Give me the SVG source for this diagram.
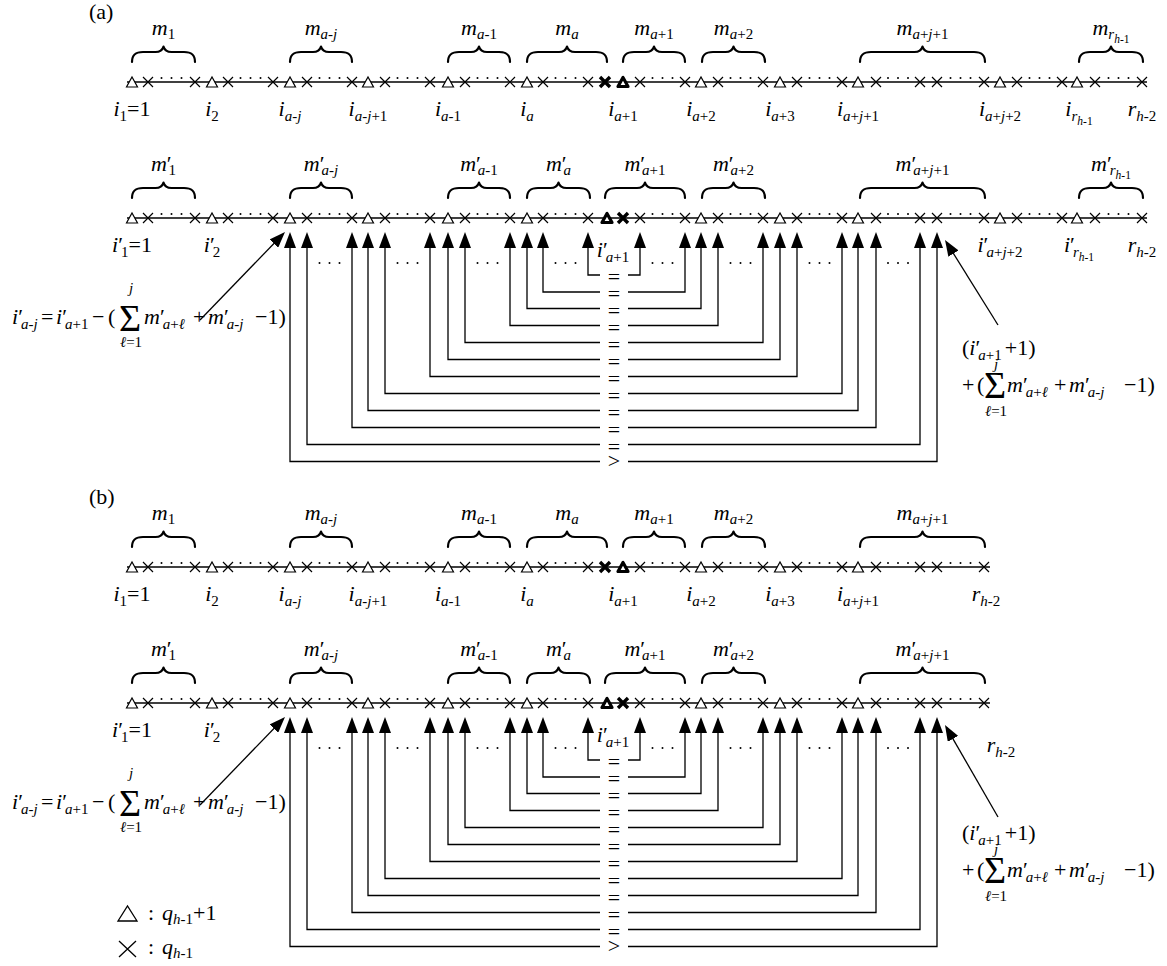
<svg xmlns="http://www.w3.org/2000/svg" width="1167" height="966" viewBox="0 0 1167 966">
<style>
.t{font-family:"Liberation Serif","Times New Roman",serif;font-size:22px;fill:#000}
.i{font-style:italic}
.s{font-size:15px}
.ss{font-size:11.5px}
.sig{font-size:38px}
.c{text-anchor:middle}
.ln{stroke:#000;stroke-width:1.3;fill:none}
.br{stroke:#000;stroke-width:2.2;fill:none;stroke-linecap:round;stroke-linejoin:round}
.cn{stroke:#000;stroke-width:1.3;fill:none;marker-end:url(#ah)}
</style>
<defs>
<marker id="ah" viewBox="0 0 16 12" refX="13" refY="6" markerWidth="16" markerHeight="12" markerUnits="userSpaceOnUse" orient="auto"><path d="M0,0 L16,6 L0,12 Z" fill="#000"/></marker>
<path id="tr" d="M-5.5,5 L5.5,5 L0,-5 Z" fill="#fff" stroke="#000" stroke-width="1.2"/>
<path id="cr" d="M-5,-5 L5,5 M5,-5 L-5,5" fill="none" stroke="#000" stroke-width="1.2"/>
<path id="btr" d="M-5,4.5 L5,4.5 L0,-4.5 Z" fill="#fff" stroke="#000" stroke-width="3.2" stroke-linejoin="round"/>
<path id="bcr" d="M-5,-5 L5,5 M5,-5 L-5,5" fill="none" stroke="#000" stroke-width="3.4"/>
<g id="dd"><circle cx="-10" cy="-4" r="1"/><circle cx="0" cy="-4" r="1"/><circle cx="10" cy="-4" r="1"/></g>
</defs>
<rect width="1167" height="966" fill="#fff"/>

<!-- ================= PANEL A ================= -->
<g id="panel-a">
<text class="t" x="89" y="19">(a)</text>

<g id="a-row1">
<line class="ln" x1="127" y1="82" x2="1147" y2="82"/>
<g id="a-row1-markers">
<use href="#tr" x="132" y="82"/><use href="#tr" x="212" y="82"/><use href="#tr" x="290" y="82"/><use href="#tr" x="368" y="82"/><use href="#tr" x="448" y="82"/><use href="#tr" x="527" y="82"/><use href="#tr" x="701" y="82"/><use href="#tr" x="780" y="82"/><use href="#tr" x="858" y="82"/><use href="#tr" x="1000" y="82"/><use href="#tr" x="1077" y="82"/>
<use href="#cr" x="148" y="82"/><use href="#cr" x="195" y="82"/><use href="#cr" x="228" y="82"/><use href="#cr" x="273" y="82"/><use href="#cr" x="307" y="82"/><use href="#cr" x="352" y="82"/><use href="#cr" x="385" y="82"/><use href="#cr" x="430" y="82"/><use href="#cr" x="465" y="82"/><use href="#cr" x="510" y="82"/><use href="#cr" x="543" y="82"/><use href="#cr" x="588" y="82"/><use href="#cr" x="640" y="82"/><use href="#cr" x="685" y="82"/><use href="#cr" x="718" y="82"/><use href="#cr" x="763" y="82"/><use href="#cr" x="797" y="82"/><use href="#cr" x="842" y="82"/><use href="#cr" x="876" y="82"/><use href="#cr" x="920" y="82"/><use href="#cr" x="937" y="82"/><use href="#cr" x="984" y="82"/><use href="#cr" x="1017" y="82"/><use href="#cr" x="1062" y="82"/><use href="#cr" x="1095" y="82"/><use href="#cr" x="1142" y="82"/>
<use href="#bcr" x="605" y="82"/><use href="#btr" x="623" y="82"/>
<use href="#dd" x="171.5" y="82"/><use href="#dd" x="250.5" y="82"/><use href="#dd" x="329.5" y="82"/><use href="#dd" x="407.5" y="82"/><use href="#dd" x="487.5" y="82"/><use href="#dd" x="565.5" y="82"/><use href="#dd" x="662.5" y="82"/><use href="#dd" x="740.5" y="82"/><use href="#dd" x="819.5" y="82"/><use href="#dd" x="898" y="82"/><use href="#dd" x="960.5" y="82"/><use href="#dd" x="1039.5" y="82"/><use href="#dd" x="1118.5" y="82"/>
</g>
<g id="a-row1-braces">
<path class="br" d="M132 62 C132 55 135 52 143 52 L155.5 52 C160.5 52 162.5 50 163.5 46.5 C164.5 50 166.5 52 171.5 52 L184 52 C192 52 195 55 195 62"/>
<path class="br" d="M290 62 C290 55 293 52 301 52 L313 52 C318 52 320 50 321 46.5 C322 50 324 52 329 52 L341 52 C349 52 352 55 352 62"/>
<path class="br" d="M448 62 C448 55 451 52 459 52 L471 52 C476 52 478 50 479 46.5 C480 50 482 52 487 52 L499 52 C507 52 510 55 510 62"/>
<path class="br" d="M527 62 C527 55 530 52 538 52 L559 52 C564 52 566 50 567 46.5 C568 50 570 52 575 52 L596 52 C604 52 607 55 607 62"/>
<path class="br" d="M623 62 C623 55 626 52 634 52 L646 52 C651 52 653 50 654 46.5 C655 50 657 52 662 52 L674 52 C682 52 685 55 685 62"/>
<path class="br" d="M702 62 C702 55 705 52 713 52 L725.5 52 C730.5 52 732.5 50 733.5 46.5 C734.5 50 736.5 52 741.5 52 L754 52 C762 52 765 55 765 62"/>
<path class="br" d="M860 62 C860 55 863 52 871 52 L914.5 52 C919.5 52 921.5 50 922.5 46.5 C923.5 50 925.5 52 930.5 52 L974 52 C982 52 985 55 985 62"/>
<path class="br" d="M1079 62 C1079 55 1082 52 1090 52 L1103 52 C1108 52 1110 50 1111 46.5 C1112 50 1114 52 1119 52 L1132 52 C1140 52 1143 55 1143 62"/>
</g>
<g id="a-row1-mlabels">
<text class="t c" x="163.5" y="35"><tspan class="i">m</tspan><tspan class="s" dy="4">1</tspan></text>
<text class="t c" x="321" y="35"><tspan class="i">m</tspan><tspan class="s" dy="4"><tspan class="i">a</tspan>-<tspan class="i">j</tspan></tspan></text>
<text class="t c" x="479" y="35"><tspan class="i">m</tspan><tspan class="s" dy="4"><tspan class="i">a</tspan>-1</tspan></text>
<text class="t c" x="567" y="35"><tspan class="i">m</tspan><tspan class="s i" dy="4">a</tspan></text>
<text class="t c" x="654" y="35"><tspan class="i">m</tspan><tspan class="s" dy="4"><tspan class="i">a</tspan>+1</tspan></text>
<text class="t c" x="733.5" y="35"><tspan class="i">m</tspan><tspan class="s" dy="4"><tspan class="i">a</tspan>+2</tspan></text>
<text class="t c" x="922.5" y="35"><tspan class="i">m</tspan><tspan class="s" dy="4"><tspan class="i">a</tspan>+<tspan class="i">j</tspan>+1</tspan></text>
<text class="t c" x="1111" y="35"><tspan class="i">m</tspan><tspan class="s i" dy="4">r</tspan><tspan class="ss" dy="4"><tspan class="i">h</tspan>-1</tspan></text>
</g>
<g id="a-row1-ilabels">
<text class="t c" x="132" y="116"><tspan class="i">i</tspan><tspan class="s" dy="5">1</tspan><tspan dy="-5">=1</tspan></text>
<text class="t c" x="212" y="116"><tspan class="i">i</tspan><tspan class="s" dy="5">2</tspan></text>
<text class="t c" x="290" y="116"><tspan class="i">i</tspan><tspan class="s" dy="5"><tspan class="i">a</tspan>-<tspan class="i">j</tspan></tspan></text>
<text class="t c" x="368" y="116"><tspan class="i">i</tspan><tspan class="s" dy="5"><tspan class="i">a</tspan>-<tspan class="i">j</tspan>+1</tspan></text>
<text class="t c" x="448" y="116"><tspan class="i">i</tspan><tspan class="s" dy="5"><tspan class="i">a</tspan>-1</tspan></text>
<text class="t c" x="527" y="116"><tspan class="i">i</tspan><tspan class="s i" dy="5">a</tspan></text>
<text class="t c" x="623" y="116"><tspan class="i">i</tspan><tspan class="s" dy="5"><tspan class="i">a</tspan>+1</tspan></text>
<text class="t c" x="701" y="116"><tspan class="i">i</tspan><tspan class="s" dy="5"><tspan class="i">a</tspan>+2</tspan></text>
<text class="t c" x="780" y="116"><tspan class="i">i</tspan><tspan class="s" dy="5"><tspan class="i">a</tspan>+3</tspan></text>
<text class="t c" x="858" y="116"><tspan class="i">i</tspan><tspan class="s" dy="5"><tspan class="i">a</tspan>+<tspan class="i">j</tspan>+1</tspan></text>
<text class="t c" x="1000" y="116"><tspan class="i">i</tspan><tspan class="s" dy="5"><tspan class="i">a</tspan>+<tspan class="i">j</tspan>+2</tspan></text>
<text class="t c" x="1079" y="116"><tspan class="i">i</tspan><tspan class="s i" dy="5">r</tspan><tspan class="ss" dy="4"><tspan class="i">h</tspan>-1</tspan></text>
<text class="t c" x="1142" y="116"><tspan class="i">r</tspan><tspan class="s" dy="5"><tspan class="i">h</tspan>-2</tspan></text>
</g>
</g>

<g id="a-row2" transform="translate(0,136)">
<line class="ln" x1="127" y1="82" x2="1147" y2="82"/>
<g id="a-row2-markers">
<use href="#tr" x="132" y="82"/><use href="#tr" x="212" y="82"/><use href="#tr" x="290" y="82"/><use href="#tr" x="368" y="82"/><use href="#tr" x="448" y="82"/><use href="#tr" x="527" y="82"/><use href="#tr" x="701" y="82"/><use href="#tr" x="780" y="82"/><use href="#tr" x="858" y="82"/><use href="#tr" x="1000" y="82"/><use href="#tr" x="1077" y="82"/>
<use href="#cr" x="148" y="82"/><use href="#cr" x="195" y="82"/><use href="#cr" x="228" y="82"/><use href="#cr" x="273" y="82"/><use href="#cr" x="307" y="82"/><use href="#cr" x="352" y="82"/><use href="#cr" x="385" y="82"/><use href="#cr" x="430" y="82"/><use href="#cr" x="465" y="82"/><use href="#cr" x="510" y="82"/><use href="#cr" x="543" y="82"/><use href="#cr" x="588" y="82"/><use href="#cr" x="640" y="82"/><use href="#cr" x="685" y="82"/><use href="#cr" x="718" y="82"/><use href="#cr" x="763" y="82"/><use href="#cr" x="797" y="82"/><use href="#cr" x="842" y="82"/><use href="#cr" x="876" y="82"/><use href="#cr" x="920" y="82"/><use href="#cr" x="937" y="82"/><use href="#cr" x="984" y="82"/><use href="#cr" x="1017" y="82"/><use href="#cr" x="1062" y="82"/><use href="#cr" x="1095" y="82"/><use href="#cr" x="1142" y="82"/>
<use href="#btr" x="607" y="82"/><use href="#bcr" x="623" y="82"/>
<use href="#dd" x="171.5" y="82"/><use href="#dd" x="250.5" y="82"/><use href="#dd" x="329.5" y="82"/><use href="#dd" x="407.5" y="82"/><use href="#dd" x="487.5" y="82"/><use href="#dd" x="565.5" y="82"/><use href="#dd" x="662.5" y="82"/><use href="#dd" x="740.5" y="82"/><use href="#dd" x="819.5" y="82"/><use href="#dd" x="898" y="82"/><use href="#dd" x="960.5" y="82"/><use href="#dd" x="1039.5" y="82"/><use href="#dd" x="1118.5" y="82"/>
</g>
<g id="a-row2-braces">
<path class="br" d="M132 62 C132 55 135 52 143 52 L155.5 52 C160.5 52 162.5 50 163.5 46.5 C164.5 50 166.5 52 171.5 52 L184 52 C192 52 195 55 195 62"/>
<path class="br" d="M290 62 C290 55 293 52 301 52 L313 52 C318 52 320 50 321 46.5 C322 50 324 52 329 52 L341 52 C349 52 352 55 352 62"/>
<path class="br" d="M448 62 C448 55 451 52 459 52 L471 52 C476 52 478 50 479 46.5 C480 50 482 52 487 52 L499 52 C507 52 510 55 510 62"/>
<path class="br" d="M527 62 C527 55 530 52 538 52 L550.5 52 C555.5 52 557.5 50 558.5 46.5 C559.5 50 561.5 52 566.5 52 L579 52 C587 52 590 55 590 62"/>
<path class="br" d="M605 62 C605 55 608 52 616 52 L637 52 C642 52 644 50 645 46.5 C646 50 648 52 653 52 L674 52 C682 52 685 55 685 62"/>
<path class="br" d="M702 62 C702 55 705 52 713 52 L725.5 52 C730.5 52 732.5 50 733.5 46.5 C734.5 50 736.5 52 741.5 52 L754 52 C762 52 765 55 765 62"/>
<path class="br" d="M860 62 C860 55 863 52 871 52 L914.5 52 C919.5 52 921.5 50 922.5 46.5 C923.5 50 925.5 52 930.5 52 L974 52 C982 52 985 55 985 62"/>
<path class="br" d="M1079 62 C1079 55 1082 52 1090 52 L1103 52 C1108 52 1110 50 1111 46.5 C1112 50 1114 52 1119 52 L1132 52 C1140 52 1143 55 1143 62"/>
</g>
<g id="a-row2-mlabels">
<text class="t c" x="163.5" y="35"><tspan class="i">m</tspan>′<tspan class="s" dx="-3" dy="4">1</tspan></text>
<text class="t c" x="321" y="35"><tspan class="i">m</tspan>′<tspan class="s" dx="-3" dy="4"><tspan class="i">a</tspan>-<tspan class="i">j</tspan></tspan></text>
<text class="t c" x="479" y="35"><tspan class="i">m</tspan>′<tspan class="s" dx="-3" dy="4"><tspan class="i">a</tspan>-1</tspan></text>
<text class="t c" x="558.5" y="35"><tspan class="i">m</tspan>′<tspan class="s i" dx="-3" dy="4">a</tspan></text>
<text class="t c" x="645" y="35"><tspan class="i">m</tspan>′<tspan class="s" dx="-3" dy="4"><tspan class="i">a</tspan>+1</tspan></text>
<text class="t c" x="733.5" y="35"><tspan class="i">m</tspan>′<tspan class="s" dx="-3" dy="4"><tspan class="i">a</tspan>+2</tspan></text>
<text class="t c" x="922.5" y="35"><tspan class="i">m</tspan>′<tspan class="s" dx="-3" dy="4"><tspan class="i">a</tspan>+<tspan class="i">j</tspan>+1</tspan></text>
<text class="t c" x="1111" y="35"><tspan class="i">m</tspan>′<tspan class="s i" dx="-2" dy="4">r</tspan><tspan class="ss" dy="4"><tspan class="i">h</tspan>-1</tspan></text>
</g>
<g id="a-row2-ilabels">
<text class="t c" x="132" y="116"><tspan class="i">i</tspan>′<tspan class="s" dx="-2" dy="5">1</tspan><tspan dy="-5">=1</tspan></text>
<text class="t c" x="212" y="116"><tspan class="i">i</tspan>′<tspan class="s" dx="-2" dy="5">2</tspan></text>
<text class="t c" x="613" y="121"><tspan class="i">i</tspan>′<tspan class="s" dx="-2" dy="5"><tspan class="i">a</tspan>+1</tspan></text>
<text class="t c" x="1000" y="116"><tspan class="i">i</tspan>′<tspan class="s" dx="-2" dy="5"><tspan class="i">a</tspan>+<tspan class="i">j</tspan>+2</tspan></text>
<text class="t c" x="1079" y="116"><tspan class="i">i</tspan>′<tspan class="s i" dx="-2" dy="5">r</tspan><tspan class="ss" dy="4"><tspan class="i">h</tspan>-1</tspan></text>
<text class="t c" x="1142" y="116"><tspan class="i">r</tspan><tspan class="s" dy="5"><tspan class="i">h</tspan>-2</tspan></text>
</g>
</g>

<g id="a-connectors">
<path class="cn" d="M600,275 H588 V235"/><path class="cn" d="M628,275 H640 V235"/>
<path class="cn" d="M600,292 H543 V235"/><path class="cn" d="M628,292 H685 V235"/>
<path class="cn" d="M600,308.5 H527 V235"/><path class="cn" d="M628,308.5 H701 V235"/>
<path class="cn" d="M600,325.5 H510 V235"/><path class="cn" d="M628,325.5 H718 V235"/>
<path class="cn" d="M600,342.5 H465 V235"/><path class="cn" d="M628,342.5 H763 V235"/>
<path class="cn" d="M600,359.5 H448 V235"/><path class="cn" d="M628,359.5 H780 V235"/>
<path class="cn" d="M600,376.5 H430 V235"/><path class="cn" d="M628,376.5 H797 V235"/>
<path class="cn" d="M600,393.5 H385 V235"/><path class="cn" d="M628,393.5 H842 V235"/>
<path class="cn" d="M600,410.5 H368 V235"/><path class="cn" d="M628,410.5 H858 V235"/>
<path class="cn" d="M600,427.5 H352 V235"/><path class="cn" d="M628,427.5 H876 V235"/>
<path class="cn" d="M600,444.5 H307 V235"/><path class="cn" d="M628,444.5 H920 V235"/>
<path class="cn" d="M600,461.5 H290 V235"/><path class="cn" d="M628,461.5 H937 V235"/>
<path class="cn" d="M200,320 L282.9,234.2"/>
<path class="cn" d="M998,325 L946.6,242.5"/>
</g>
<g id="a-relations">
<text class="t c" x="614" y="284">=</text><text class="t c" x="614" y="301">=</text><text class="t c" x="614" y="317.5">=</text><text class="t c" x="614" y="334.5">=</text><text class="t c" x="614" y="351.5">=</text><text class="t c" x="614" y="368.5">=</text><text class="t c" x="614" y="385.5">=</text><text class="t c" x="614" y="402.5">=</text><text class="t c" x="614" y="419.5">=</text><text class="t c" x="614" y="436.5">=</text><text class="t c" x="614" y="453.5">=</text><text class="t c" x="614" y="468">&gt;</text>
</g>
<g id="a-gapdots">
<use href="#dd" x="329.5" y="267"/><use href="#dd" x="407.5" y="267"/><use href="#dd" x="487.5" y="267"/><use href="#dd" x="565.5" y="267"/><use href="#dd" x="662.5" y="267"/><use href="#dd" x="740.5" y="267"/><use href="#dd" x="819.5" y="267"/><use href="#dd" x="898" y="267"/>
</g>
<g id="a-formula-left">
<text class="t" y="324"><tspan x="12" class="i">i</tspan>′<tspan class="s" dx="-2" dy="5"><tspan class="i">a</tspan>-<tspan class="i">j</tspan></tspan><tspan x="41" dy="-5">=</tspan><tspan x="56" class="i">i</tspan>′<tspan class="s" dx="-2" dy="5"><tspan class="i">a</tspan>+1</tspan><tspan x="92" dy="-5">−</tspan><tspan x="108">(</tspan><tspan x="144" class="i">m</tspan>′<tspan class="s" dx="-2" dy="5"><tspan class="i">a</tspan>+<tspan class="i">ℓ</tspan></tspan><tspan x="193" dy="-5">+</tspan><tspan x="208" class="i">m</tspan>′<tspan class="s" dx="-2" dy="5"><tspan class="i">a</tspan>-<tspan class="i">j</tspan></tspan><tspan x="255" dy="-5">−1)</tspan></text>
<text class="t sig c" x="130" y="331">Σ</text>
<text class="t s i c" x="131" y="293">j</text>
<text class="t s c" x="131" y="347"><tspan class="i">ℓ</tspan>=1</text>
</g>
<g id="a-formula-right">
<text class="t" x="962" y="355">(<tspan class="i">i</tspan>′<tspan class="s" dx="-2" dy="5"><tspan class="i">a</tspan>+1</tspan><tspan dx="3" dy="-5">+1)</tspan></text>
<text class="t" y="392"><tspan x="962">+</tspan><tspan x="977">(</tspan><tspan x="1007" class="i">m</tspan>′<tspan class="s" dx="-2" dy="5"><tspan class="i">a</tspan>+<tspan class="i">ℓ</tspan></tspan><tspan x="1054" dy="-5">+</tspan><tspan x="1069" class="i">m</tspan>′<tspan class="s" dx="-2" dy="5"><tspan class="i">a</tspan>-<tspan class="i">j</tspan></tspan><tspan x="1124" dy="-5">−1)</tspan></text>
<text class="t sig c" x="995" y="398">Σ</text>
<text class="t s i c" x="996" y="369">j</text>
<text class="t s c" x="996" y="416"><tspan class="i">ℓ</tspan>=1</text>
</g>
</g>

<!-- ================= PANEL B ================= -->
<g id="panel-b" transform="translate(0,485)">
<text class="t" x="89" y="19">(b)</text>

<g id="b-row1">
<line class="ln" x1="127" y1="82" x2="990" y2="82"/>
<g id="b-row1-markers">
<use href="#tr" x="132" y="82"/><use href="#tr" x="212" y="82"/><use href="#tr" x="290" y="82"/><use href="#tr" x="368" y="82"/><use href="#tr" x="448" y="82"/><use href="#tr" x="527" y="82"/><use href="#tr" x="701" y="82"/><use href="#tr" x="780" y="82"/><use href="#tr" x="858" y="82"/>
<use href="#cr" x="148" y="82"/><use href="#cr" x="195" y="82"/><use href="#cr" x="228" y="82"/><use href="#cr" x="273" y="82"/><use href="#cr" x="307" y="82"/><use href="#cr" x="352" y="82"/><use href="#cr" x="385" y="82"/><use href="#cr" x="430" y="82"/><use href="#cr" x="465" y="82"/><use href="#cr" x="510" y="82"/><use href="#cr" x="543" y="82"/><use href="#cr" x="588" y="82"/><use href="#cr" x="640" y="82"/><use href="#cr" x="685" y="82"/><use href="#cr" x="718" y="82"/><use href="#cr" x="763" y="82"/><use href="#cr" x="797" y="82"/><use href="#cr" x="842" y="82"/><use href="#cr" x="876" y="82"/><use href="#cr" x="920" y="82"/><use href="#cr" x="937" y="82"/><use href="#cr" x="984" y="82"/>
<use href="#bcr" x="605" y="82"/><use href="#btr" x="623" y="82"/>
<use href="#dd" x="171.5" y="82"/><use href="#dd" x="250.5" y="82"/><use href="#dd" x="329.5" y="82"/><use href="#dd" x="407.5" y="82"/><use href="#dd" x="487.5" y="82"/><use href="#dd" x="565.5" y="82"/><use href="#dd" x="662.5" y="82"/><use href="#dd" x="740.5" y="82"/><use href="#dd" x="819.5" y="82"/><use href="#dd" x="898" y="82"/><use href="#dd" x="960.5" y="82"/>
</g>
<g id="b-row1-braces">
<path class="br" d="M132 62 C132 55 135 52 143 52 L155.5 52 C160.5 52 162.5 50 163.5 46.5 C164.5 50 166.5 52 171.5 52 L184 52 C192 52 195 55 195 62"/>
<path class="br" d="M290 62 C290 55 293 52 301 52 L313 52 C318 52 320 50 321 46.5 C322 50 324 52 329 52 L341 52 C349 52 352 55 352 62"/>
<path class="br" d="M448 62 C448 55 451 52 459 52 L471 52 C476 52 478 50 479 46.5 C480 50 482 52 487 52 L499 52 C507 52 510 55 510 62"/>
<path class="br" d="M527 62 C527 55 530 52 538 52 L559 52 C564 52 566 50 567 46.5 C568 50 570 52 575 52 L596 52 C604 52 607 55 607 62"/>
<path class="br" d="M623 62 C623 55 626 52 634 52 L646 52 C651 52 653 50 654 46.5 C655 50 657 52 662 52 L674 52 C682 52 685 55 685 62"/>
<path class="br" d="M702 62 C702 55 705 52 713 52 L725.5 52 C730.5 52 732.5 50 733.5 46.5 C734.5 50 736.5 52 741.5 52 L754 52 C762 52 765 55 765 62"/>
<path class="br" d="M860 62 C860 55 863 52 871 52 L914.5 52 C919.5 52 921.5 50 922.5 46.5 C923.5 50 925.5 52 930.5 52 L974 52 C982 52 985 55 985 62"/>
</g>
<g id="b-row1-mlabels">
<text class="t c" x="163.5" y="35"><tspan class="i">m</tspan><tspan class="s" dy="4">1</tspan></text>
<text class="t c" x="321" y="35"><tspan class="i">m</tspan><tspan class="s" dy="4"><tspan class="i">a</tspan>-<tspan class="i">j</tspan></tspan></text>
<text class="t c" x="479" y="35"><tspan class="i">m</tspan><tspan class="s" dy="4"><tspan class="i">a</tspan>-1</tspan></text>
<text class="t c" x="567" y="35"><tspan class="i">m</tspan><tspan class="s i" dy="4">a</tspan></text>
<text class="t c" x="654" y="35"><tspan class="i">m</tspan><tspan class="s" dy="4"><tspan class="i">a</tspan>+1</tspan></text>
<text class="t c" x="733.5" y="35"><tspan class="i">m</tspan><tspan class="s" dy="4"><tspan class="i">a</tspan>+2</tspan></text>
<text class="t c" x="922.5" y="35"><tspan class="i">m</tspan><tspan class="s" dy="4"><tspan class="i">a</tspan>+<tspan class="i">j</tspan>+1</tspan></text>
</g>
<g id="b-row1-ilabels">
<text class="t c" x="132" y="116"><tspan class="i">i</tspan><tspan class="s" dy="5">1</tspan><tspan dy="-5">=1</tspan></text>
<text class="t c" x="212" y="116"><tspan class="i">i</tspan><tspan class="s" dy="5">2</tspan></text>
<text class="t c" x="290" y="116"><tspan class="i">i</tspan><tspan class="s" dy="5"><tspan class="i">a</tspan>-<tspan class="i">j</tspan></tspan></text>
<text class="t c" x="368" y="116"><tspan class="i">i</tspan><tspan class="s" dy="5"><tspan class="i">a</tspan>-<tspan class="i">j</tspan>+1</tspan></text>
<text class="t c" x="448" y="116"><tspan class="i">i</tspan><tspan class="s" dy="5"><tspan class="i">a</tspan>-1</tspan></text>
<text class="t c" x="527" y="116"><tspan class="i">i</tspan><tspan class="s i" dy="5">a</tspan></text>
<text class="t c" x="623" y="116"><tspan class="i">i</tspan><tspan class="s" dy="5"><tspan class="i">a</tspan>+1</tspan></text>
<text class="t c" x="701" y="116"><tspan class="i">i</tspan><tspan class="s" dy="5"><tspan class="i">a</tspan>+2</tspan></text>
<text class="t c" x="780" y="116"><tspan class="i">i</tspan><tspan class="s" dy="5"><tspan class="i">a</tspan>+3</tspan></text>
<text class="t c" x="858" y="116"><tspan class="i">i</tspan><tspan class="s" dy="5"><tspan class="i">a</tspan>+<tspan class="i">j</tspan>+1</tspan></text>
<text class="t c" x="986" y="116"><tspan class="i">r</tspan><tspan class="s" dy="5"><tspan class="i">h</tspan>-2</tspan></text>
</g>
</g>

<g id="b-row2" transform="translate(0,136)">
<line class="ln" x1="127" y1="82" x2="990" y2="82"/>
<g id="b-row2-markers">
<use href="#tr" x="132" y="82"/><use href="#tr" x="212" y="82"/><use href="#tr" x="290" y="82"/><use href="#tr" x="368" y="82"/><use href="#tr" x="448" y="82"/><use href="#tr" x="527" y="82"/><use href="#tr" x="701" y="82"/><use href="#tr" x="780" y="82"/><use href="#tr" x="858" y="82"/>
<use href="#cr" x="148" y="82"/><use href="#cr" x="195" y="82"/><use href="#cr" x="228" y="82"/><use href="#cr" x="273" y="82"/><use href="#cr" x="307" y="82"/><use href="#cr" x="352" y="82"/><use href="#cr" x="385" y="82"/><use href="#cr" x="430" y="82"/><use href="#cr" x="465" y="82"/><use href="#cr" x="510" y="82"/><use href="#cr" x="543" y="82"/><use href="#cr" x="588" y="82"/><use href="#cr" x="640" y="82"/><use href="#cr" x="685" y="82"/><use href="#cr" x="718" y="82"/><use href="#cr" x="763" y="82"/><use href="#cr" x="797" y="82"/><use href="#cr" x="842" y="82"/><use href="#cr" x="876" y="82"/><use href="#cr" x="920" y="82"/><use href="#cr" x="937" y="82"/><use href="#cr" x="984" y="82"/>
<use href="#btr" x="607" y="82"/><use href="#bcr" x="623" y="82"/>
<use href="#dd" x="171.5" y="82"/><use href="#dd" x="250.5" y="82"/><use href="#dd" x="329.5" y="82"/><use href="#dd" x="407.5" y="82"/><use href="#dd" x="487.5" y="82"/><use href="#dd" x="565.5" y="82"/><use href="#dd" x="662.5" y="82"/><use href="#dd" x="740.5" y="82"/><use href="#dd" x="819.5" y="82"/><use href="#dd" x="898" y="82"/><use href="#dd" x="960.5" y="82"/>
</g>
<g id="b-row2-braces">
<path class="br" d="M132 62 C132 55 135 52 143 52 L155.5 52 C160.5 52 162.5 50 163.5 46.5 C164.5 50 166.5 52 171.5 52 L184 52 C192 52 195 55 195 62"/>
<path class="br" d="M290 62 C290 55 293 52 301 52 L313 52 C318 52 320 50 321 46.5 C322 50 324 52 329 52 L341 52 C349 52 352 55 352 62"/>
<path class="br" d="M448 62 C448 55 451 52 459 52 L471 52 C476 52 478 50 479 46.5 C480 50 482 52 487 52 L499 52 C507 52 510 55 510 62"/>
<path class="br" d="M527 62 C527 55 530 52 538 52 L550.5 52 C555.5 52 557.5 50 558.5 46.5 C559.5 50 561.5 52 566.5 52 L579 52 C587 52 590 55 590 62"/>
<path class="br" d="M605 62 C605 55 608 52 616 52 L637 52 C642 52 644 50 645 46.5 C646 50 648 52 653 52 L674 52 C682 52 685 55 685 62"/>
<path class="br" d="M702 62 C702 55 705 52 713 52 L725.5 52 C730.5 52 732.5 50 733.5 46.5 C734.5 50 736.5 52 741.5 52 L754 52 C762 52 765 55 765 62"/>
<path class="br" d="M860 62 C860 55 863 52 871 52 L914.5 52 C919.5 52 921.5 50 922.5 46.5 C923.5 50 925.5 52 930.5 52 L974 52 C982 52 985 55 985 62"/>
</g>
<g id="b-row2-mlabels">
<text class="t c" x="163.5" y="35"><tspan class="i">m</tspan>′<tspan class="s" dx="-3" dy="4">1</tspan></text>
<text class="t c" x="321" y="35"><tspan class="i">m</tspan>′<tspan class="s" dx="-3" dy="4"><tspan class="i">a</tspan>-<tspan class="i">j</tspan></tspan></text>
<text class="t c" x="479" y="35"><tspan class="i">m</tspan>′<tspan class="s" dx="-3" dy="4"><tspan class="i">a</tspan>-1</tspan></text>
<text class="t c" x="558.5" y="35"><tspan class="i">m</tspan>′<tspan class="s i" dx="-3" dy="4">a</tspan></text>
<text class="t c" x="645" y="35"><tspan class="i">m</tspan>′<tspan class="s" dx="-3" dy="4"><tspan class="i">a</tspan>+1</tspan></text>
<text class="t c" x="733.5" y="35"><tspan class="i">m</tspan>′<tspan class="s" dx="-3" dy="4"><tspan class="i">a</tspan>+2</tspan></text>
<text class="t c" x="922.5" y="35"><tspan class="i">m</tspan>′<tspan class="s" dx="-3" dy="4"><tspan class="i">a</tspan>+<tspan class="i">j</tspan>+1</tspan></text>
</g>
<g id="b-row2-ilabels">
<text class="t c" x="132" y="116"><tspan class="i">i</tspan>′<tspan class="s" dx="-2" dy="5">1</tspan><tspan dy="-5">=1</tspan></text>
<text class="t c" x="212" y="116"><tspan class="i">i</tspan>′<tspan class="s" dx="-2" dy="5">2</tspan></text>
<text class="t c" x="613" y="121"><tspan class="i">i</tspan>′<tspan class="s" dx="-2" dy="5"><tspan class="i">a</tspan>+1</tspan></text>
<text class="t c" x="1001" y="131"><tspan class="i">r</tspan><tspan class="s" dy="5"><tspan class="i">h</tspan>-2</tspan></text>
</g>
</g>

<g id="b-connectors">
<path class="cn" d="M600,275 H588 V235"/><path class="cn" d="M628,275 H640 V235"/>
<path class="cn" d="M600,292 H543 V235"/><path class="cn" d="M628,292 H685 V235"/>
<path class="cn" d="M600,308.5 H527 V235"/><path class="cn" d="M628,308.5 H701 V235"/>
<path class="cn" d="M600,325.5 H510 V235"/><path class="cn" d="M628,325.5 H718 V235"/>
<path class="cn" d="M600,342.5 H465 V235"/><path class="cn" d="M628,342.5 H763 V235"/>
<path class="cn" d="M600,359.5 H448 V235"/><path class="cn" d="M628,359.5 H780 V235"/>
<path class="cn" d="M600,376.5 H430 V235"/><path class="cn" d="M628,376.5 H797 V235"/>
<path class="cn" d="M600,393.5 H385 V235"/><path class="cn" d="M628,393.5 H842 V235"/>
<path class="cn" d="M600,410.5 H368 V235"/><path class="cn" d="M628,410.5 H858 V235"/>
<path class="cn" d="M600,427.5 H352 V235"/><path class="cn" d="M628,427.5 H876 V235"/>
<path class="cn" d="M600,444.5 H307 V235"/><path class="cn" d="M628,444.5 H920 V235"/>
<path class="cn" d="M600,461.5 H290 V235"/><path class="cn" d="M628,461.5 H937 V235"/>
<path class="cn" d="M200,320 L282.9,234.2"/>
<path class="cn" d="M998,332 L946.5,242.6"/>
</g>
<g id="b-relations">
<text class="t c" x="614" y="284">=</text><text class="t c" x="614" y="301">=</text><text class="t c" x="614" y="317.5">=</text><text class="t c" x="614" y="334.5">=</text><text class="t c" x="614" y="351.5">=</text><text class="t c" x="614" y="368.5">=</text><text class="t c" x="614" y="385.5">=</text><text class="t c" x="614" y="402.5">=</text><text class="t c" x="614" y="419.5">=</text><text class="t c" x="614" y="436.5">=</text><text class="t c" x="614" y="453.5">=</text><text class="t c" x="614" y="468">&gt;</text>
</g>
<g id="b-gapdots">
<use href="#dd" x="329.5" y="267"/><use href="#dd" x="407.5" y="267"/><use href="#dd" x="487.5" y="267"/><use href="#dd" x="565.5" y="267"/><use href="#dd" x="662.5" y="267"/><use href="#dd" x="740.5" y="267"/><use href="#dd" x="819.5" y="267"/><use href="#dd" x="898" y="267"/>
</g>
<g id="b-formula-left">
<text class="t" y="324"><tspan x="12" class="i">i</tspan>′<tspan class="s" dx="-2" dy="5"><tspan class="i">a</tspan>-<tspan class="i">j</tspan></tspan><tspan x="41" dy="-5">=</tspan><tspan x="56" class="i">i</tspan>′<tspan class="s" dx="-2" dy="5"><tspan class="i">a</tspan>+1</tspan><tspan x="92" dy="-5">−</tspan><tspan x="108">(</tspan><tspan x="144" class="i">m</tspan>′<tspan class="s" dx="-2" dy="5"><tspan class="i">a</tspan>+<tspan class="i">ℓ</tspan></tspan><tspan x="193" dy="-5">+</tspan><tspan x="208" class="i">m</tspan>′<tspan class="s" dx="-2" dy="5"><tspan class="i">a</tspan>-<tspan class="i">j</tspan></tspan><tspan x="255" dy="-5">−1)</tspan></text>
<text class="t sig c" x="130" y="331">Σ</text>
<text class="t s i c" x="131" y="293">j</text>
<text class="t s c" x="131" y="347"><tspan class="i">ℓ</tspan>=1</text>
</g>
<g id="b-formula-right">
<text class="t" x="962" y="355">(<tspan class="i">i</tspan>′<tspan class="s" dx="-2" dy="5"><tspan class="i">a</tspan>+1</tspan><tspan dx="3" dy="-5">+1)</tspan></text>
<text class="t" y="392"><tspan x="962">+</tspan><tspan x="977">(</tspan><tspan x="1007" class="i">m</tspan>′<tspan class="s" dx="-2" dy="5"><tspan class="i">a</tspan>+<tspan class="i">ℓ</tspan></tspan><tspan x="1054" dy="-5">+</tspan><tspan x="1069" class="i">m</tspan>′<tspan class="s" dx="-2" dy="5"><tspan class="i">a</tspan>-<tspan class="i">j</tspan></tspan><tspan x="1124" dy="-5">−1)</tspan></text>
<text class="t sig c" x="995" y="398">Σ</text>
<text class="t s i c" x="996" y="369">j</text>
<text class="t s c" x="996" y="416"><tspan class="i">ℓ</tspan>=1</text>
</g>
</g>

<!-- ================= LEGEND ================= -->
<g id="legend">
<path d="M118,921 L137,921 L127.5,906 Z" fill="#fff" stroke="#000" stroke-width="1.3"/>
<path d="M119,941 L136,957 M136,941 L119,957" fill="none" stroke="#000" stroke-width="1.3"/>
<text class="t" x="148" y="920">:</text>
<text class="t" x="162" y="920"><tspan class="i">q</tspan><tspan class="s" dy="4"><tspan class="i">h</tspan>-1</tspan><tspan dy="-4">+1</tspan></text>
<text class="t" x="148" y="954">:</text>
<text class="t" x="162" y="954"><tspan class="i">q</tspan><tspan class="s" dy="4"><tspan class="i">h</tspan>-1</tspan></text>
</g>
</svg>
